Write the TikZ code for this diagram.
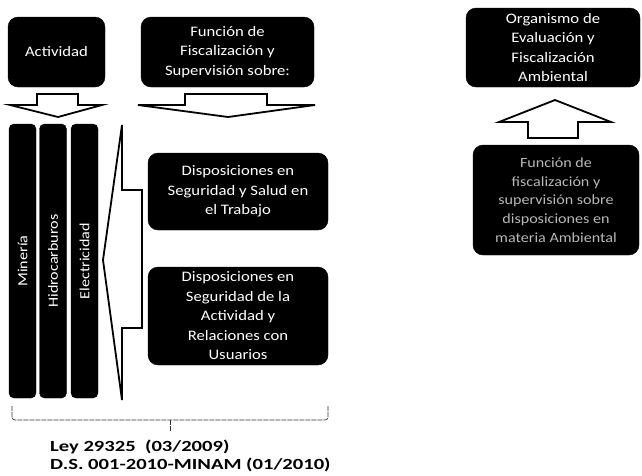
\documentclass[tikz,border=0pt]{standalone}
\usepackage{fontspec}
\setmainfont{Carlito}[FakeStretch=1.15]
\newfontfamily\leyfont{Carlito}[FakeStretch=1.33]
\definecolor{fadetext}{gray}{0.72}
\begin{document}
\begin{tikzpicture}[x=1pt,y=-1pt,
  darkbox/.style={draw=black, fill=black, rounded corners=10pt, text=white, align=center,
    inner sep=0pt, font=\fontsize{14.5}{19.5}\selectfont},
  barbox/.style={draw=black, fill=black, rounded corners=5pt, text=white, inner sep=0pt,
    rotate=90, minimum width=274pt, minimum height=27pt, font=\fontsize{14}{15}\selectfont},
  blockarrow/.style={draw=black, line width=1.8pt, fill=white, line join=miter},
  bracestyle/.style={draw=black!80, line width=0.7pt, dash pattern=on 5pt off 1pt, rounded corners=3pt},
  leytext/.style={anchor=west, inner sep=0pt, font=\leyfont\bfseries\fontsize{15.5}{17}\selectfont},
  fadebox/.style={draw=black, fill=black, rounded corners=10pt, text=fadetext, align=center,
    inner sep=0pt, font=\fontsize{14}{18.8}\selectfont}
]
\path[use as bounding box] (0,0) rectangle (642,475);

% top boxes
\node[darkbox, minimum width=97pt, minimum height=70pt] (act) at (56.5,52) {Actividad};
\node[darkbox, minimum width=173pt, minimum height=70pt] (fun) at (227.5,52)
  {Función de\\Fiscalización y\\Supervisión sobre:};

% down arrows
\draw[blockarrow] (37,94) -- (78,94) -- (78,105) -- (102,105) -- (58,117) -- (10,105) -- (37,105) -- cycle;
\draw[blockarrow] (185,94) -- (267,94) -- (267,105) -- (315,105) -- (228,117) -- (138,105) -- (185,105) -- cycle;

% bars
\node[barbox] (min) at (22.5,261) {Minería};
\node[barbox] (hid) at (53,261) {Hidrocarburos};
\node[barbox] (ele) at (84.5,261) {Electricidad};

% big left arrow
\draw[blockarrow] (122,125) -- (122,190) -- (142,190) -- (142,328) -- (122,328) -- (122,400) -- (103,260) -- cycle;

% disposiciones
\node[darkbox, minimum width=180pt, minimum height=77pt] (dis1) at (238,191.5)
  {Disposiciones en\\Seguridad y Salud en\\el Trabajo};
\node[darkbox, minimum width=180pt, minimum height=98pt] (dis2) at (238,316)
  {Disposiciones en\\Seguridad de la\\Actividad y\\Relaciones con\\Usuarios};

% brace
\coordinate (bl) at (12,406);
\coordinate (br) at (328,406);
\coordinate (bm) at (170,420);
\coordinate (bt) at (170,432);
\draw[bracestyle] (bl) -- (12,420) -- (br |- bm) -- (br);
\draw[bracestyle] (bm) -- (bt);

% law text
\node[leytext] (ley1) at (50,447) {Ley 29325~~(03/2009)};
\node[leytext] (ley2) at (50,465) {D.S. 001-2010-MINAM (01/2010)};

% right side
\node[darkbox, minimum width=174pt, minimum height=79pt] (oefa) at (553,47.5)
  {Organismo de\\Evaluación y\\Fiscalización\\Ambiental};
\draw[blockarrow] (528,138) -- (528,122) -- (499,122) -- (555,100) -- (611,122) -- (578,122) -- (578,138) -- cycle;
\node[fadebox, minimum width=166pt, minimum height=110pt] (fam) at (556,200)
  {Función de\\fiscalización y\\supervisión sobre\\disposiciones en\\materia Ambiental};
\end{tikzpicture}
\end{document}
